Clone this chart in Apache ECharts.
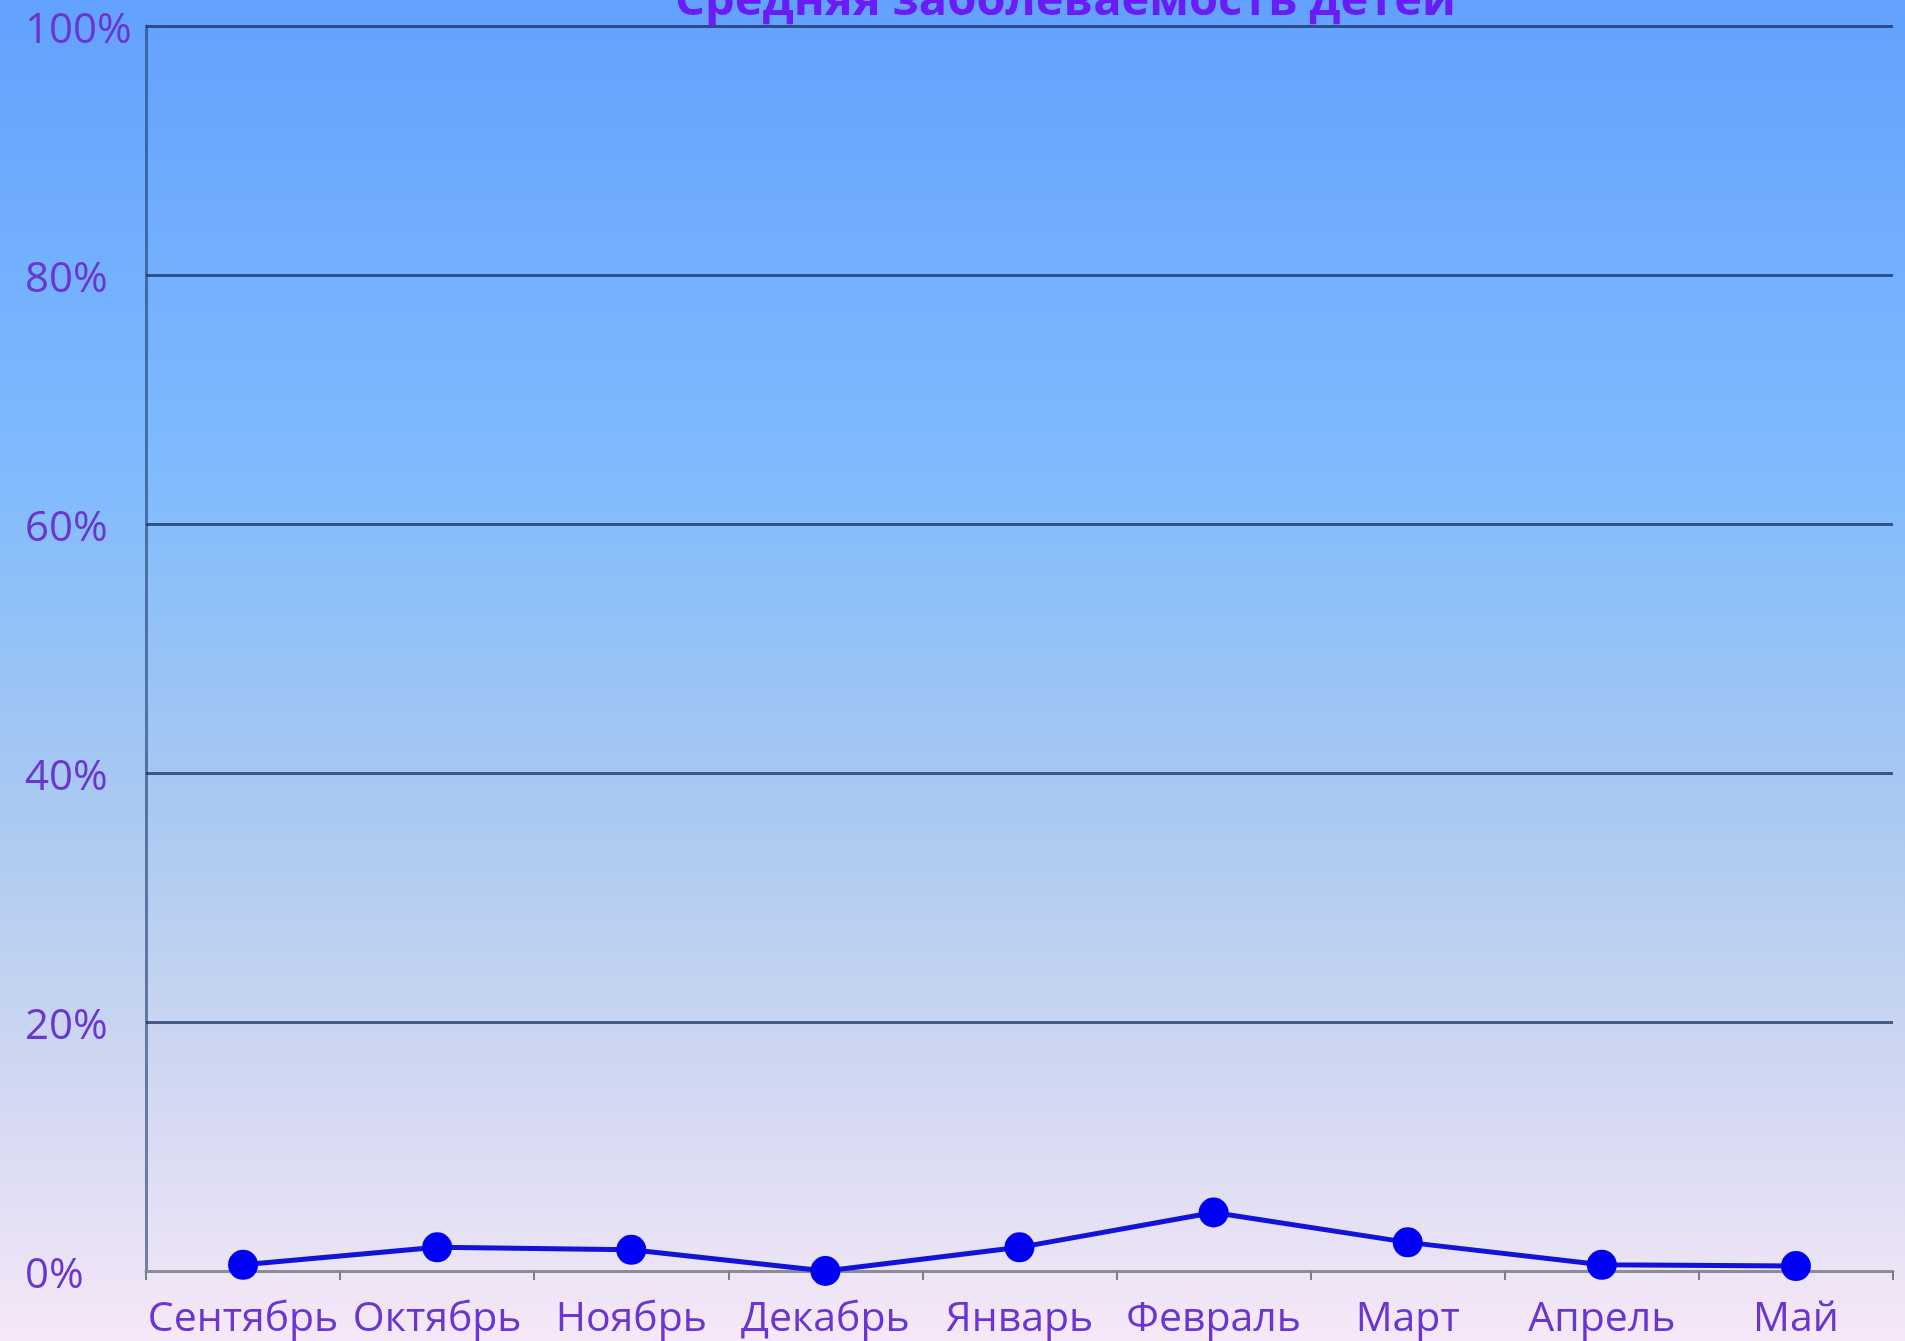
<!DOCTYPE html>
<html>
<head>
<meta charset="utf-8">
<script src="https://cdn.jsdelivr.net/npm/echarts@6/dist/echarts.min.js"></script>
<style>html,body{margin:0;padding:0;}#c{width:1905px;height:1341px;}</style>
</head>
<body>
<div id="c"></div>
<script>
const titleText = 'Средняя заболеваемость детей';
const categories = ['Сентябрь','Октябрь','Ноябрь','Декабрь','Январь','Февраль','Март','Апрель','Май'];
const values = [0.5, 1.9, 1.7, 0, 1.9, 4.7, 2.3, 0.5, 0.4];
const yTicks = [0, 20, 40, 60, 80, 100];

const chart = echarts.init(document.getElementById('c'));
chart.setOption({
  backgroundColor: {
    type: 'linear', x: 0, y: 0, x2: 0, y2: 1,
    colorStops: [
      {offset: 0, color: '#62a1ff'},
      {offset: 0.35, color: '#80bbfd'},
      {offset: 0.6, color: '#a9c9f1'},
      {offset: 0.85, color: '#d9dbf2'},
      {offset: 1, color: '#f6e8f8'}
    ]
  },
  title: {
    text: titleText,
    left: 670,
    top: -27,
    textStyle: {fontFamily: 'Open Sans', fontSize: 47, fontWeight: 'bold', color: '#6a1cf5'}
  },
  grid: {left: 146, right: 12, top: 26, bottom: 70},
  xAxis: {
    type: 'category',
    data: categories,
    boundaryGap: true,
    axisLine: {show: true, lineStyle: {color: '#8c8c96', width: 3}},
    axisTick: {show: true, length: 9, lineStyle: {color: '#7d7d88', width: 2}},
    axisLabel: {fontFamily: 'Open Sans', fontSize: 41, color: '#6a35d0', margin: 28, interval: 0},
    splitLine: {show: false}
  },
  yAxis: {
    type: 'value',
    min: yTicks[0],
    max: yTicks[yTicks.length - 1],
    interval: 20,
    axisLine: {show: true, lineStyle: {color: 'rgba(30,60,110,0.6)', width: 3}},
    axisTick: {show: false},
    axisLabel: {
      fontFamily: 'Open Sans', fontSize: 42, color: '#6a35d0',
      formatter: '{value}%', align: 'left', margin: 121,
      verticalAlign: 'top', lineHeight: 10
    },
    splitLine: {show: true, lineStyle: {color: 'rgba(25,50,95,0.75)', width: 3}}
  },
  series: [{
    type: 'line',
    data: values,
    symbol: 'circle',
    symbolSize: 30,
    lineStyle: {color: '#1212d8', width: 5},
    itemStyle: {color: '#0000f5'},
    z: 5
  }]
});
</script>
</body>
</html>
